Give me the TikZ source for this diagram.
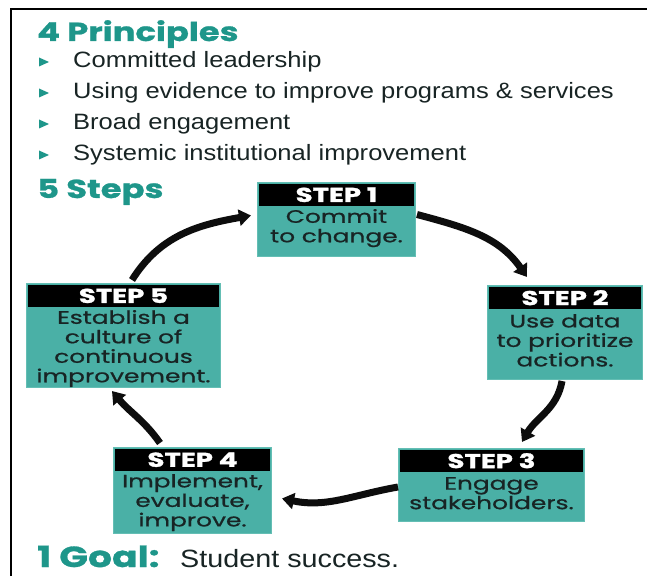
\documentclass[tikz,border=0pt]{standalone}
\usepackage{fontspec}
\setmainfont[FakeStretch=1.15]{Liberation Sans}
\newfontfamily\headfont[FakeStretch=1.3,FakeBold=1]{Poppins}
\newfontfamily\labelfont[FakeStretch=1.38,FakeBold=1.5]{Poppins}
\newfontfamily\boxfont[FakeStretch=1.38,FakeBold=0.8]{Poppins}
\usetikzlibrary{calc,arrows.meta}
\definecolor{tealfill}{RGB}{74,176,166}
\definecolor{tealedge}{RGB}{100,190,180}
\definecolor{tealhead}{RGB}{30,150,138}
\definecolor{inktext}{RGB}{24,36,36}
\tikzset{
  stepbox/.style={fill=tealfill, draw=tealedge, line width=1pt, anchor=north west, inner sep=0pt},
  stephead/.style={fill=black, text=white, anchor=north, inner sep=0pt, minimum height=22pt,
    font=\labelfont\bfseries\fontsize{20}{20}\selectfont},
  steptext/.style={anchor=north, align=center, text=inktext, inner sep=0pt,
    font=\boxfont\fontsize{18}{19.5}\selectfont},
  heading/.style={anchor=base west, inner sep=0pt, text=tealhead,
    font=\headfont\bfseries\fontsize{26}{26}\selectfont},
  bullettext/.style={anchor=base west, inner sep=0pt, text=inktext, font=\fontsize{22.2}{22}\selectfont},
  bulletmark/.style={fill=tealhead, draw=none},
  cycle/.style={line width=7pt, draw=black!95, -{Triangle[width=16pt,length=12pt]}},
}
\begin{document}
\begin{tikzpicture}[x=1pt,y=1pt]
\useasboundingbox (0,0) rectangle (647,576);
% frame rule along the top and left edges
\draw[line width=2pt] (11,0) -- (11,567) -- (647,567);

% principles
\node[heading] (hp) at (37,535) {4 Principles};
\foreach \yb/\txt [count=\i] in {508/Committed leadership,
    477/Using evidence to improve programs \& services,
    446/Broad engagement,
    415/Systemic institutional improvement}{
  \fill[bulletmark] (39,\yb+1.5) -- (49,\yb+6) -- (39,\yb+10.5) -- cycle;
  \node[bullettext] (p\i) at (73,\yb) {\txt};
}

\node[heading] (hs) at (37,378) {5 Steps};

% step boxes
\node[stepbox, minimum width=158pt, minimum height=74pt] (s1) at (257,394) {};
\node[stephead, minimum width=155pt] (h1) at ($(s1.north)+(0,-1.5)$) {STEP 1};
\node[steptext] (t1) at ($(h1.south)+(0,-3)$) {Commit\\to change.};

\node[stepbox, minimum width=155pt, minimum height=94pt] (s2) at (487,291) {};
\node[stephead, minimum width=152pt] (h2) at ($(s2.north)+(0,-1.5)$) {STEP 2};
\node[steptext] (t2) at ($(h2.south)+(0,-5)$) {Use data\\to prioritize\\actions.};

\node[stepbox, minimum width=186pt, minimum height=73pt] (s3) at (398,128) {};
\node[stephead, minimum width=183pt] (h3) at ($(s3.north)+(0,-1.5)$) {STEP 3};
\node[steptext] (t3) at ($(h3.south)+(0,-5)$) {Engage\\stakeholders.};

\node[stepbox, minimum width=158pt, minimum height=86pt] (s4) at (113,129) {};
\node[stephead, minimum width=155pt] (h4) at ($(s4.north)+(0,-1.5)$) {STEP 4};
\node[steptext] (t4) at ($(h4.south)+(0,-3)$) {Implement,\\evaluate,\\improve.};

\node[stepbox, minimum width=194pt, minimum height=104pt] (s5) at (26,293) {};
\node[stephead, minimum width=191pt] (h5) at ($(s5.north)+(0,-1.5)$) {STEP 5};
\node[steptext] (t5) at ($(h5.south)+(0,-3)$) {Establish a\\culture of\\continuous\\improvement.};

% cycle arrows
\draw[cycle] ($(s1.east)+(1,5)$) to[out=-15,in=125] ($(s2.north west)+(40,8)$);
\draw[cycle] ($(s2.south west)+(75,-1)$) to[out=-100,in=60] ($(s3.north west)+(124,6)$);
\draw[cycle] ($(s3.west)+(0,-2)$) to[out=190,in=-12] ($(s4.east)+(10,-8)$);
\draw[cycle] ($(s4.north west)+(47,4)$) to[out=125,in=-50] ($(s5.south west)+(86,-3)$);
\draw[cycle] ($(s5.north west)+(106,3)$) to[out=58,in=190] ($(s1.west)+(-6,4)$);

% goal
\node[heading, font=\headfont\bfseries\fontsize{29}{29}\selectfont] (hg) at (37,9) {1 Goal:};
\node[bullettext, font=\fontsize{25}{25}\selectfont] (goal) at (180,9) {Student success.};
\end{tikzpicture}
\end{document}
